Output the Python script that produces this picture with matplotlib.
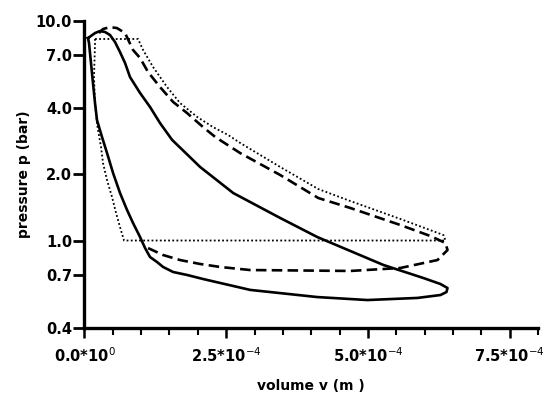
import numpy as np
import matplotlib
matplotlib.use("Agg")
import matplotlib.pyplot as plt

# volume in units of 1e-4 m^3, pressure in bar
solid_v = [0.062, 0.186, 0.274, 0.362, 0.451, 0.539, 0.627, 0.716, 0.804, 0.981, 1.157,
           1.334, 1.546, 2.041, 2.624, 3.454, 4.108, 4.691, 5.274, 5.980, 6.281, 6.405,
           6.387, 6.281, 5.875, 4.991, 4.108, 2.924, 2.394, 2.094, 1.811, 1.564, 1.387,
           1.281, 1.157, 1.069, 0.981, 0.857, 0.751, 0.627, 0.504, 0.398, 0.309, 0.221,
           0.186, 0.150, 0.115, 0.080, 0.062]
solid_p = [8.34, 8.79, 8.98, 8.89, 8.61, 8.00, 7.20, 6.42, 5.54, 4.69, 4.05,
           3.42, 2.87, 2.16, 1.645, 1.266, 1.037, 0.896, 0.774, 0.675, 0.634, 0.608,
           0.583, 0.565, 0.548, 0.536, 0.553, 0.596, 0.641, 0.668, 0.697, 0.719, 0.758,
           0.798, 0.841, 0.924, 1.037, 1.201, 1.377, 1.645, 2.03, 2.50, 2.96, 3.53,
           4.22, 5.21, 6.42, 7.92, 8.34]

dashed_v = [1.122, 1.387, 1.687, 2.041, 2.394, 2.924, 4.691, 5.574, 6.228, 6.405, 6.369,
            6.104, 5.574, 4.691, 4.125, 3.454, 2.747, 2.306, 2.094, 1.811, 1.564, 1.334,
            1.122, 0.981, 0.857, 0.716, 0.574, 0.451, 0.327, 0.256]
dashed_p = [0.924, 0.859, 0.815, 0.782, 0.758, 0.734, 0.727, 0.750, 0.815, 0.905, 0.974,
            1.048, 1.176, 1.406, 1.561, 1.986, 2.50, 2.96, 3.28, 3.80, 4.27, 4.99,
            5.84, 6.77, 7.36, 8.79, 9.26, 9.36, 9.17, 8.79]

dotted_v = [0.186, 0.945, 1.034, 1.210, 1.458, 1.687, 1.988, 2.270, 2.535, 2.747, 3.454,
            4.125, 4.691, 5.574, 6.334, 6.369, 0.698, 0.627, 0.557, 0.486, 0.398, 0.327,
            0.292, 0.239, 0.221, 0.186, 0.168, 0.186, 0.186]
dotted_p = [8.26, 8.26, 7.36, 6.16, 4.99, 4.22, 3.65, 3.28, 3.02, 2.78, 2.16,
            1.715, 1.512, 1.253, 1.059, 1.0, 1.0, 1.152, 1.334, 1.578, 1.884, 2.25,
            2.66, 3.18, 3.42, 4.22, 5.54, 7.92, 8.26]

y_ticks = [0.4, 0.7, 1.0, 2.0, 4.0, 7.0, 10.0]
y_ticklabels = ["0.4", "0.7", "1.0", "2.0", "4.0", "7.0", "10.0"]
x_major = [0.0, 2.5e-4, 5.0e-4, 7.5e-4]
x_ticklabels = ["0.0*10$^{0}$", "2.5*10$^{-4}$", "5.0*10$^{-4}$", "7.5*10$^{-4}$"]

scale = 1e-4

fig = plt.figure(figsize=(5.45, 3.99), dpi=100)
ax = fig.add_axes([0.155, 0.178, 0.832, 0.770])

ax.plot(np.array(dotted_v) * scale, dotted_p, color="black", lw=1.3, ls=(0, (1, 1.3)),
        solid_joinstyle="round")
ax.plot(np.array(dashed_v) * scale, dashed_p, color="black", lw=1.9, ls=(0, (4, 2)),
        dash_joinstyle="round")
ax.plot(np.array(solid_v) * scale, solid_p, color="black", lw=1.9,
        solid_joinstyle="round")

ax.set_yscale("log")
ax.set_ylim(0.4, 10.0)
ax.set_xlim(0, 8.0e-4)
ax.set_yticks(y_ticks)
ax.set_yticklabels(y_ticklabels)
ax.yaxis.set_minor_locator(matplotlib.ticker.NullLocator())
ax.set_xticks(x_major)
ax.set_xticklabels(x_ticklabels)
ax.set_xticks(np.arange(0, 8.01e-4, 0.5e-4), minor=True)

for s in ["top", "right"]:
    ax.spines[s].set_visible(False)
for s in ["left", "bottom"]:
    ax.spines[s].set_linewidth(2.4)

ax.tick_params(axis="y", which="major", direction="out", length=8, width=2.0,
               labelsize=10.5, pad=1)
ax.tick_params(axis="x", which="major", direction="out", length=7, width=1.8,
               labelsize=10.5, pad=6)
ax.tick_params(axis="x", which="minor", direction="out", length=5, width=1.5)
for lab in ax.get_xticklabels() + ax.get_yticklabels():
    lab.set_fontweight("bold")

ax.set_ylabel("pressure p (bar)", fontsize=10, fontweight="bold", labelpad=3)
ax.set_xlabel("volume v (m )", fontsize=10, fontweight="bold", labelpad=10)

fig.savefig("out.png", dpi=100)
